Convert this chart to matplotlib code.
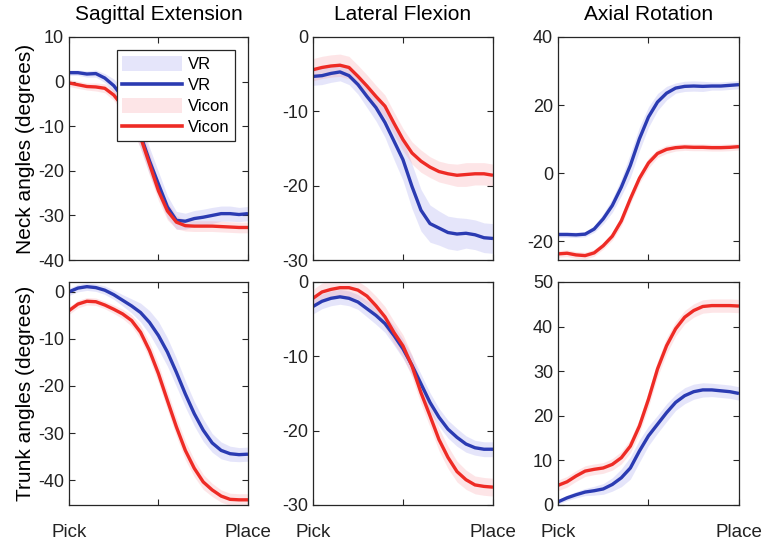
import numpy as np
import matplotlib
matplotlib.use("Agg")
from matplotlib import pyplot as plt
from matplotlib.patches import Patch
from matplotlib.lines import Line2D

plt.rcParams["font.family"] = ["Liberation Sans", "DejaVu Sans"]
plt.rcParams["axes.unicode_minus"] = False

# normalised time, Pick -> Place
x = np.linspace(0, 1, 21)
titles = ["Sagittal Extension", "Lateral Flexion", "Axial Rotation"]
row_labels = ["Neck angles (degrees)", "Trunk angles (degrees)"]

# neck
neck_sag_vr = [2.0, 2.0, 1.7, 1.8, 0.8, -0.9, -3.5, -7.0, -12.0, -17.8, -23.0, -28.1, -31.1, -31.3,
               -30.7, -30.4, -30.0, -29.6, -29.6, -29.8, -29.6]
neck_sag_vr_sd = [0.6, 0.6, 0.7, 0.8, 1.0, 1.5, 2.0, 2.5, 3.0, 3.0, 2.8, 2.5, 2.0, 1.8, 1.8, 1.8,
                  1.8, 1.7, 1.7, 1.6, 1.6]
neck_sag_vicon = [-0.3, -0.7, -1.1, -1.2, -1.5, -3.0, -5.5, -8.5, -12.5, -18.5, -24.5, -29.0, -31.5,
                  -32.3, -32.4, -32.4, -32.4, -32.5, -32.6, -32.7, -32.7]
neck_sag_vicon_sd = [0.8, 0.8, 0.8, 0.9, 1.0, 1.2, 1.5, 2.0, 2.5, 2.5, 2.2, 2.0, 1.5, 1.2, 1.2, 1.2,
                     1.2, 1.2, 1.2, 1.2, 1.2]

neck_lat_vr = [-5.3, -5.2, -4.9, -4.7, -5.2, -6.4, -8.0, -9.5, -11.5, -14.0, -16.5, -20.1, -23.3,
               -25.1, -25.7, -26.3, -26.5, -26.4, -26.6, -27.0, -27.1]
neck_lat_vr_sd = [1.2, 1.2, 1.2, 1.2, 1.2, 1.3, 1.5, 1.8, 2.0, 2.5, 2.8, 3.0, 2.8, 2.5, 2.3, 2.2,
                  2.2, 2.0, 2.0, 2.0, 2.0]
neck_lat_vicon = [-4.4, -4.1, -3.9, -3.8, -4.1, -5.3, -6.6, -8.0, -9.3, -11.6, -13.8, -15.6, -16.7,
                  -17.5, -18.1, -18.4, -18.6, -18.5, -18.4, -18.4, -18.6]
neck_lat_vicon_sd = [1.5, 1.5, 1.5, 1.5, 1.5, 1.5, 1.5, 1.5, 1.5, 1.5, 1.5, 1.5, 1.5, 1.4, 1.4, 1.4,
                     1.5, 1.6, 1.5, 1.5, 1.5]

neck_ax_vr = [-18.0, -18.0, -18.1, -17.9, -16.4, -13.4, -9.5, -4.1, 2.3, 10.1, 16.5, 20.9, 23.5,
              25.0, 25.5, 25.6, 25.5, 25.6, 25.6, 25.8, 26.0]
neck_ax_vr_sd = [0.8, 0.8, 0.8, 0.8, 1.0, 1.5, 2.0, 2.5, 3.5, 3.5, 3.0, 2.5, 2.0, 1.5, 1.5, 1.5, 1.5,
                 1.2, 1.2, 1.2, 1.2]
neck_ax_vicon = [-23.7, -23.5, -24.0, -24.2, -23.4, -21.3, -18.5, -14.0, -7.5, -1.5, 3.0, 5.8, 7.0,
                 7.5, 7.7, 7.6, 7.6, 7.5, 7.5, 7.6, 7.8]
neck_ax_vicon_sd = [1.0, 1.0, 1.0, 1.0, 1.0, 1.0, 1.2, 1.5, 1.5, 1.5, 1.5, 1.2, 1.2, 1.0, 1.0, 1.0,
                    1.0, 1.0, 1.0, 1.0, 1.0]

# trunk
trunk_sag_vr = [0.0, 0.8, 1.1, 0.9, 0.35, -0.6, -1.8, -3.0, -4.4, -6.5, -9.3, -12.8, -17.1, -21.7,
                -25.9, -29.4, -32.1, -33.7, -34.4, -34.6, -34.5]
trunk_sag_vr_sd = [0.8, 0.8, 0.8, 0.8, 0.9, 1.0, 1.2, 1.5, 2.0, 2.5, 3.0, 3.0, 3.0, 2.8, 2.6, 2.4,
                   2.0, 1.8, 1.6, 1.5, 1.5]
trunk_sag_vicon = [-4.0, -2.6, -2.0, -2.1, -2.8, -3.7, -4.7, -6.1, -8.6, -12.5, -17.4, -23.1, -28.7,
                   -33.7, -37.5, -40.4, -42.1, -43.4, -44.1, -44.2, -44.2]
trunk_sag_vicon_sd = [0.8, 0.8, 0.8, 0.8, 0.8, 0.9, 1.0, 1.2, 1.5, 1.8, 2.0, 2.0, 2.0, 2.0, 1.8, 1.6,
                      1.4, 1.3, 1.3, 1.3, 1.3]

trunk_lat_vr = [-3.3, -2.6, -2.2, -2.0, -2.2, -2.7, -3.6, -4.5, -5.6, -7.2, -9.0, -11.2, -13.7,
                -16.2, -18.2, -19.8, -20.9, -21.8, -22.3, -22.5, -22.5]
trunk_lat_vr_sd = [1.0, 1.0, 1.0, 1.0, 1.0, 1.0, 1.1, 1.2, 1.2, 1.3, 1.3, 1.3, 1.3, 1.3, 1.2, 1.2,
                   1.2, 1.1, 1.0, 1.0, 1.0]
trunk_lat_vicon = [-2.2, -1.35, -1.0, -0.77, -0.77, -1.1, -1.9, -3.2, -4.7, -6.8, -8.6, -11.3, -14.9,
                   -18.0, -21.2, -23.6, -25.5, -26.6, -27.3, -27.5, -27.6]
trunk_lat_vicon_sd = [1.2, 1.2, 1.2, 1.2, 1.2, 1.2, 1.2, 1.3, 1.4, 1.5, 1.5, 1.5, 1.5, 1.5, 1.5, 1.5,
                      1.4, 1.3, 1.2, 1.2, 1.2]

trunk_ax_vr = [0.7, 1.6, 2.3, 2.9, 3.2, 3.6, 4.6, 6.1, 8.3, 12.1, 15.5, 18.1, 20.7, 23.0, 24.5, 25.4,
               25.8, 25.8, 25.6, 25.4, 25.0]
trunk_ax_vr_sd = [0.5, 0.6, 0.7, 0.8, 1.0, 1.2, 1.5, 2.0, 2.5, 2.5, 2.2, 2.0, 2.0, 1.8, 1.8, 1.7,
                  1.6, 1.5, 1.5, 1.5, 1.5]
trunk_ax_vicon = [4.4, 5.2, 6.5, 7.6, 8.0, 8.3, 9.1, 10.6, 13.2, 17.7, 23.7, 30.5, 35.7, 39.5, 42.1,
                  43.6, 44.5, 44.7, 44.7, 44.7, 44.6]
trunk_ax_vicon_sd = [1.2, 1.2, 1.2, 1.2, 1.2, 1.2, 1.3, 1.4, 1.5, 1.6, 1.8, 1.8, 1.8, 1.6, 1.5, 1.5,
                     1.5, 1.5, 1.5, 1.5, 1.5]

panels = [
    [(neck_sag_vr, neck_sag_vr_sd, neck_sag_vicon, neck_sag_vicon_sd, (-40, 10), [-40, -30, -20, -10, 0, 10]),
     (neck_lat_vr, neck_lat_vr_sd, neck_lat_vicon, neck_lat_vicon_sd, (-30, 0), [-30, -20, -10, 0]),
     (neck_ax_vr, neck_ax_vr_sd, neck_ax_vicon, neck_ax_vicon_sd, (-25.5, 40), [-20, 0, 20, 40])],
    [(trunk_sag_vr, trunk_sag_vr_sd, trunk_sag_vicon, trunk_sag_vicon_sd, (-45.3, 2.1), [-40, -30, -20, -10, 0]),
     (trunk_lat_vr, trunk_lat_vr_sd, trunk_lat_vicon, trunk_lat_vicon_sd, (-30, 0), [-30, -20, -10, 0]),
     (trunk_ax_vr, trunk_ax_vr_sd, trunk_ax_vicon, trunk_ax_vicon_sd, (0, 50), [0, 10, 20, 30, 40, 50])],
]

vr_col = "#2b3bb2"
vicon_col = "#ee2b25"
vr_fill = (0.55, 0.55, 0.92)
vicon_fill = (0.98, 0.55, 0.58)
fill_alpha = 0.22
axis_col = "#262626"

fig = plt.figure(figsize=(7.63, 5.44), dpi=100)
lefts = [0.0904, 0.4102, 0.7313]
widths = [0.2346, 0.2359, 0.2372]
bottoms = [0.522, 0.0717]
height = 0.41

for r in range(2):
    for c in range(3):
        vr, vr_sd, vi, vi_sd, ylim, yt = panels[r][c]
        ax = fig.add_axes([lefts[c], bottoms[r], widths[c], height])
        vr = np.array(vr); vr_sd = np.array(vr_sd)
        vi = np.array(vi); vi_sd = np.array(vi_sd)
        ax.fill_between(x, vr - vr_sd, vr + vr_sd, color=vr_fill, alpha=fill_alpha, lw=0)
        ax.fill_between(x, vi - vi_sd, vi + vi_sd, color=vicon_fill, alpha=fill_alpha, lw=0)
        ax.plot(x, vr, color=vr_col, lw=2.4, solid_capstyle="butt")
        ax.plot(x, vi, color=vicon_col, lw=2.4, solid_capstyle="butt")
        ax.set_xlim(0, 1)
        ax.set_ylim(*ylim)
        ax.set_yticks(yt)
        ax.set_xticks([0, 0.5, 1])
        if r == 1:
            ax.set_xticklabels(["Pick", "", "Place"])
        else:
            ax.set_xticklabels([])
        ax.tick_params(direction="in", top=True, right=True, length=4, width=0.8,
                       colors=axis_col, labelsize=13, labelcolor="#222222")
        ax.tick_params(axis="x", pad=14, labelsize=13.5)
        for s in ax.spines.values():
            s.set_color(axis_col)
            s.set_linewidth(0.9)
        if r == 0:
            ax.set_title(titles[c], fontsize=15, pad=12)
        if c == 0:
            ax.set_ylabel(row_labels[r], fontsize=15, labelpad=2)
        if r == 0 and c == 0:
            handles = [Patch(facecolor=vr_fill, alpha=fill_alpha, edgecolor="none"),
                       Line2D([], [], color=vr_col, lw=2.6),
                       Patch(facecolor=vicon_fill, alpha=fill_alpha, edgecolor="none"),
                       Line2D([], [], color=vicon_col, lw=2.6)]
            leg = ax.legend(handles, ["VR", "VR", "Vicon", "Vicon"], loc="upper right",
                            bbox_to_anchor=(0.927, 0.942), borderaxespad=0, fontsize=12,
                            handlelength=3.6, handleheight=1.0, labelspacing=0.3,
                            handletextpad=0.3, borderpad=0.35, fancybox=False, framealpha=1)
            leg.get_frame().set_edgecolor(axis_col)
            leg.get_frame().set_linewidth(0.9)

fig.savefig("out.png", dpi=100)
